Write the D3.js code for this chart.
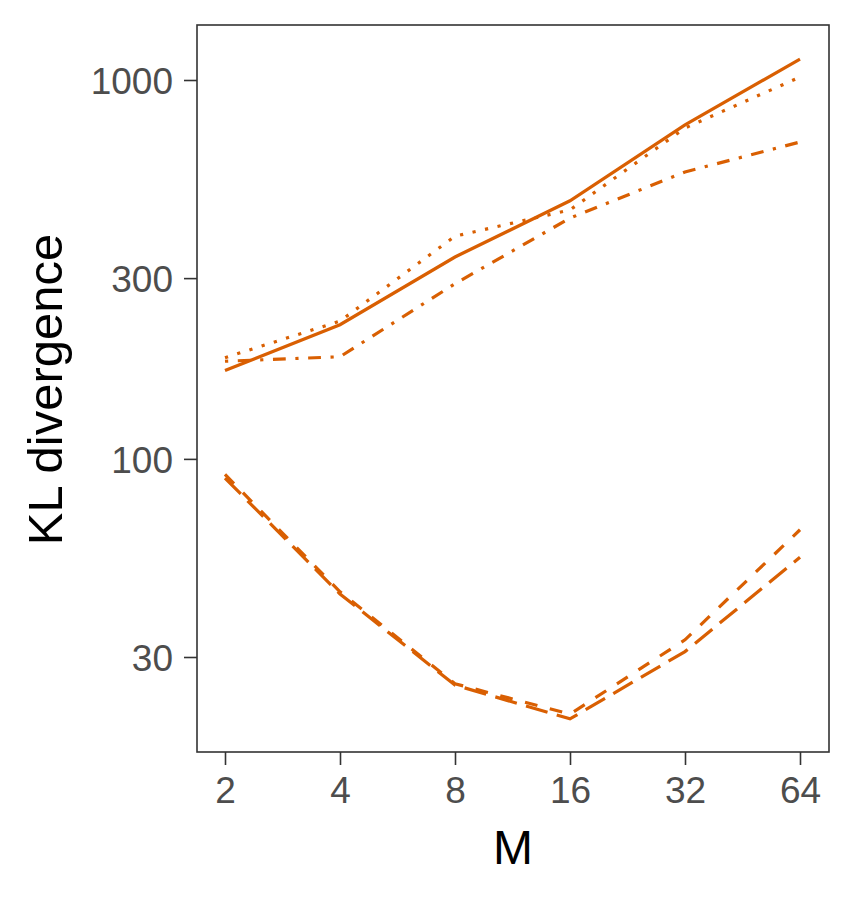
<!DOCTYPE html>
<html>
<head>
<meta charset="utf-8">
<script src="https://cdn.jsdelivr.net/npm/d3@7"></script>
<style>
  body { margin: 0; background: #fff; }
  svg text { font-family: "Liberation Sans", Arial, sans-serif; }
</style>
</head>
<body>
<svg id="graphe" width="855" height="900"></svg>
<script>
// Données
const valeursM = [2, 4, 8, 16, 32, 64]
const serieSolide = [171, 226, 341, 480, 761, 1136]
const seriePointillee = [185, 231, 387, 454, 747, 1018]
const serieTiretPoint = [181, 186, 290, 432, 572, 686]
const serieTirets = [91, 44.6, 25.5, 21.2, 33.3, 65]
const serieLongsTirets = [89, 44, 25.3, 20.6, 31, 55]
const ticksY = [30, 100, 300, 1000]

const couleur = '#d95f02'
const epaisseur = 3.2

// Zone du panneau
const gauche = 197, droite = 829, haut = 25, bas = 752

const svg = d3.select('#graphe')

const x = d3.scaleLog().base(2).domain([2, 64]).range([225, 800])
const y = d3.scaleLog().domain([1000, 30]).range([80, 657])

// Cadre du panneau
svg.append('rect')
    .attr('x', gauche)
    .attr('y', haut)
    .attr('width', droite - gauche)
    .attr('height', bas - haut)
    .attr('fill', 'white')
    .attr('stroke', '#333333')
    .attr('stroke-width', 1.6)

// Axes
const axeX = svg.append('g')
    .attr('transform', `translate(0,${bas})`)
    .call(d3.axisBottom(x).tickValues(valeursM).tickFormat(d3.format('d')).tickSizeOuter(0).tickSizeInner(13).tickPadding(11))
const axeY = svg.append('g')
    .attr('transform', `translate(${gauche},0)`)
    .call(d3.axisLeft(y).tickValues(ticksY).tickFormat(d3.format('d')).tickSizeOuter(0).tickSizeInner(13).tickPadding(11))

for (const axe of [axeX, axeY]) {
    axe.select('.domain').remove()
    axe.selectAll('.tick line').attr('stroke', '#333333').attr('stroke-width', 1.6)
    axe.selectAll('.tick text')
        .attr('fill', '#4d4d4d')
        .style('font-size', '37px')
}
axeX.selectAll('.tick text').attr('dy', '0.72em')
axeY.selectAll('.tick text').attr('dy', '0.36em')

// Titres des axes
svg.append('text')
    .attr('x', (gauche + droite) / 2)
    .attr('y', 864)
    .attr('text-anchor', 'middle')
    .style('font-size', '48px')
    .attr('fill', 'black')
    .text('M')
svg.append('text')
    .attr('transform', `translate(62,${(haut + bas) / 2 + 1}) rotate(-90)`)
    .attr('text-anchor', 'middle')
    .style('font-size', '49px')
    .attr('fill', 'black')
    .text('KL divergence')

// Courbes
const ligne = d3.line()
    .x((d, i) => x(valeursM[i]))
    .y(d => y(d))

const u = epaisseur
const series = [
    { valeurs: serieSolide, tirets: null },
    { valeurs: seriePointillee, tirets: `${u} ${3 * u}` },
    { valeurs: serieTiretPoint, tirets: `${u} ${3 * u} ${4 * u} ${3 * u}` },
    { valeurs: serieTirets, tirets: `${4 * u} ${4 * u}` },
    { valeurs: serieLongsTirets, tirets: `${7 * u} ${3 * u}` }
]

series.forEach(s => {
    svg.append('path')
        .datum(s.valeurs)
        .attr('d', ligne)
        .attr('fill', 'none')
        .attr('stroke', couleur)
        .attr('stroke-width', epaisseur)
        .attr('stroke-dasharray', s.tirets)
        .attr('stroke-linecap', 'butt')
})
</script>
</body>
</html>
